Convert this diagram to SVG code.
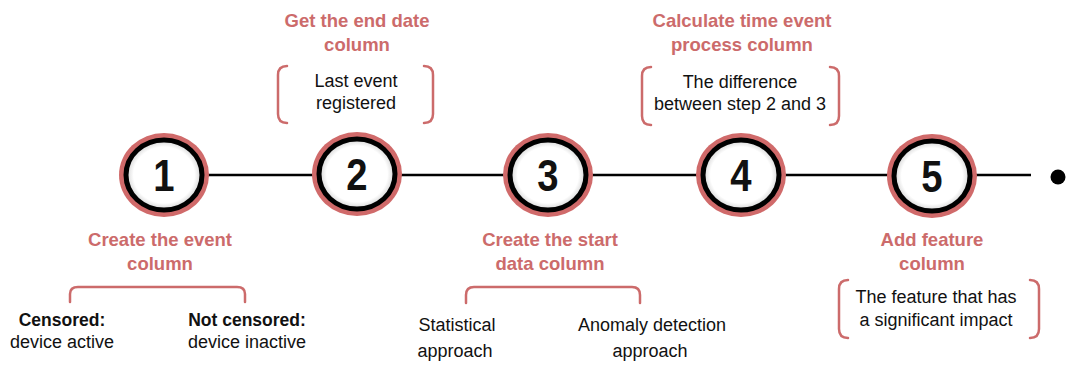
<svg xmlns="http://www.w3.org/2000/svg" width="1067" height="365" viewBox="0 0 1067 365">
<style>
.title{font-family:"Liberation Sans",Arial,sans-serif;font-weight:bold;font-size:18.5px;fill:#CC6B6B;text-anchor:middle}
.body{font-family:"Liberation Sans",Arial,sans-serif;font-size:18px;fill:#111;text-anchor:middle}
.bold{font-weight:bold;font-size:17.5px}
.num{font-family:"Liberation Sans",Arial,sans-serif;font-weight:bold;font-size:45px;fill:#111;text-anchor:middle}
.brk{fill:none;stroke:#CC6B6B;stroke-width:2.5;stroke-linecap:round}
.ring{fill:#D06A6A}
.inner{fill:url(#g);stroke:#000;stroke-width:5}
.conn{stroke:#000;stroke-width:2.5;fill:none}
</style>
<defs>
<radialGradient id="g" cx="0.5" cy="0.5" r="0.5">
<stop offset="0" stop-color="#fff"/>
<stop offset="0.8" stop-color="#fff"/>
<stop offset="0.93" stop-color="#e2e2e2"/>
<stop offset="1" stop-color="#b8b8b8"/>
</radialGradient>
</defs>
<rect width="1067" height="365" fill="#fff"/>
<g id="connectors">
<line class="conn" x1="200" y1="175" x2="320" y2="175"/>
<line class="conn" x1="395" y1="175" x2="510" y2="175"/>
<line class="conn" x1="585" y1="175" x2="705" y2="175"/>
<line class="conn" x1="780" y1="175" x2="895" y2="175"/>
<line class="conn" x1="970" y1="175" x2="1031" y2="175"/>
<circle cx="1058" cy="177" r="7.5" fill="#000"/>
</g>
<g id="node1">
<ellipse class="ring" cx="164" cy="175" rx="45" ry="42"/>
<ellipse class="inner" cx="164" cy="175" rx="38" ry="35"/>
<text class="num" transform="translate(164 191) scale(0.85 1)">1</text>
<text class="title" x="160" y="246">Create the event</text>
<text class="title" x="160" y="270">column</text>
<path class="brk" d="M70,302 V294 Q70,287 78,287 H237 Q245,287 245,294 V302"/>
<text class="body bold" x="62" y="326">Censored:</text>
<text class="body" x="62" y="348">device active</text>
<text class="body bold" x="247" y="326">Not censored:</text>
<text class="body" x="247" y="348">device inactive</text>
</g>
<g id="node2">
<ellipse class="ring" cx="357" cy="174" rx="45" ry="42"/>
<ellipse class="inner" cx="357" cy="174" rx="38" ry="35"/>
<text class="num" transform="translate(357 190) scale(0.85 1)">2</text>
<text class="title" x="357" y="27">Get the end date</text>
<text class="title" x="357" y="51">column</text>
<path class="brk" d="M287,66 Q278,66 278,75 V114 Q278,123 287,123"/>
<path class="brk" d="M424,66 Q433,66 433,75 V114 Q433,123 424,123"/>
<text class="body" x="356" y="87">Last event</text>
<text class="body" x="356" y="109">registered</text>
</g>
<g id="node3">
<ellipse class="ring" cx="548" cy="175" rx="45" ry="42"/>
<ellipse class="inner" cx="548" cy="175" rx="38" ry="35"/>
<text class="num" transform="translate(548 191) scale(0.85 1)">3</text>
<text class="title" x="550" y="246">Create the start</text>
<text class="title" x="550" y="270">data column</text>
<path class="brk" d="M466,303 V295 Q466,287 474,287 H632 Q640,287 640,295 V303"/>
<text class="body" x="457" y="331">Statistical</text>
<text class="body" x="455" y="357">approach</text>
<text class="body" x="652" y="331">Anomaly detection</text>
<text class="body" x="650" y="357">approach</text>
</g>
<g id="node4">
<ellipse class="ring" cx="741" cy="175" rx="45" ry="42"/>
<ellipse class="inner" cx="741" cy="175" rx="38" ry="35"/>
<text class="num" transform="translate(741 191) scale(0.85 1)">4</text>
<text class="title" x="742" y="27">Calculate time event</text>
<text class="title" x="742" y="51">process column</text>
<path class="brk" d="M651,67 Q642,67 642,76 V116 Q642,125 651,125"/>
<path class="brk" d="M830,67 Q839,67 839,76 V116 Q839,125 830,125"/>
<text class="body" x="740" y="88">The difference</text>
<text class="body" x="740" y="110">between step 2 and 3</text>
</g>
<g id="node5">
<ellipse class="ring" cx="932" cy="176" rx="45" ry="42"/>
<ellipse class="inner" cx="932" cy="176" rx="38" ry="35"/>
<text class="num" transform="translate(932 192) scale(0.85 1)">5</text>
<text class="title" x="932" y="246">Add feature</text>
<text class="title" x="932" y="270">column</text>
<path class="brk" d="M848,280 Q839,280 839,289 V329 Q839,338 848,338"/>
<path class="brk" d="M1030,280 Q1039,280 1039,289 V329 Q1039,338 1030,338"/>
<text class="body" x="936" y="303">The feature that has</text>
<text class="body" x="936" y="326">a significant impact</text>
</g>
</svg>
